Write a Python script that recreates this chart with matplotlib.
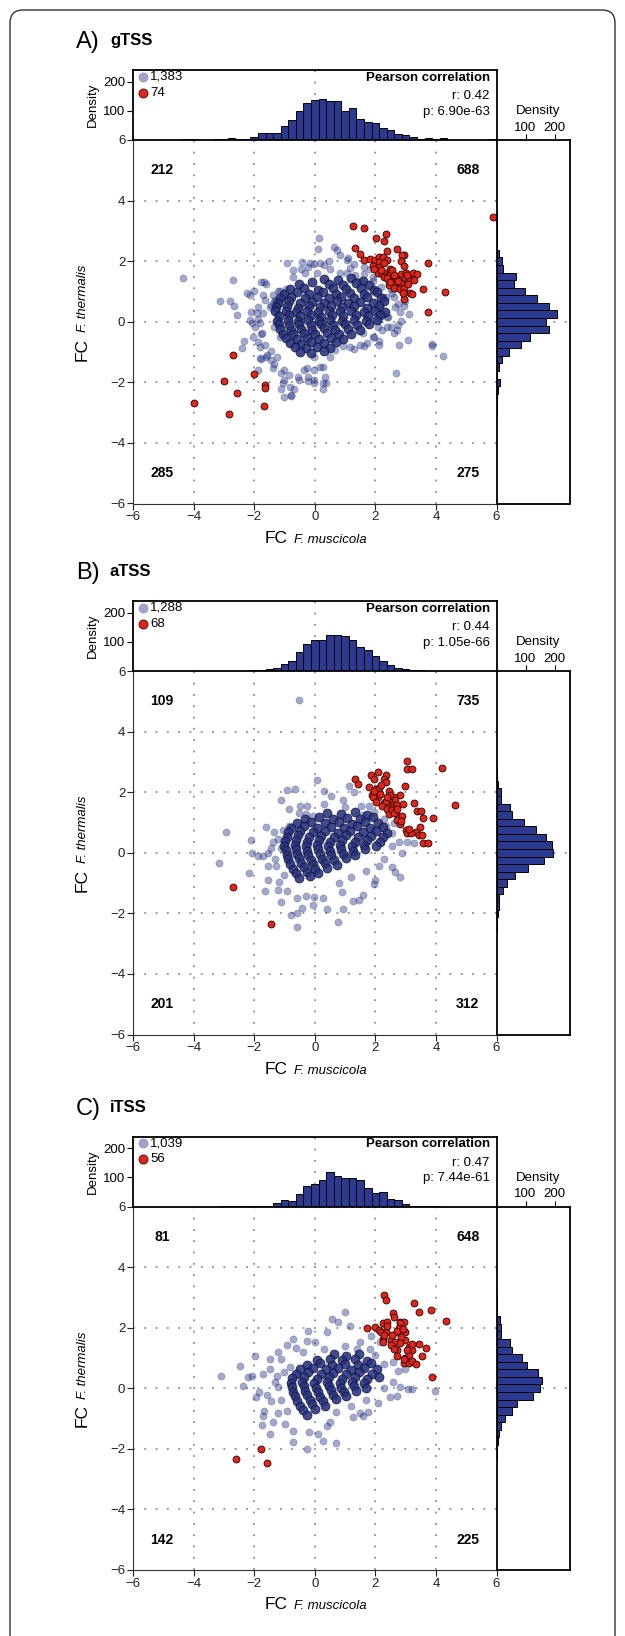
import matplotlib.pyplot as plt
from matplotlib.patches import FancyBboxPatch
from matplotlib.transforms import blended_transform_factory

plt.rcParams['font.family'] = ['Liberation Sans', 'DejaVu Sans']

W, H = 625, 1636

# ---------------- panel A: gTSS ----------------
a_top_centres = [-4.25, -4.0, -3.25, -3.0, -2.75, -2.5, -2.25, -2.0, -1.75, -1.5, -1.25, -1.0,
                 -0.75, -0.5, -0.25, 0.0, 0.25, 0.5, 0.75, 1.0, 1.25, 1.5, 1.75, 2.0, 2.25, 2.5,
                 2.75, 3.0, 3.25, 3.5, 3.75, 4.0, 4.25, 5.875]
a_top_density = [2, 2, 2, 2, 8, 3, 3, 11, 23, 23, 23, 49, 69, 99, 129, 137, 140, 134, 134, 99,
                 109, 72, 61, 57, 40, 34, 21, 17, 10, 5, 7, 2, 6, 2]
a_right_centres = [3.5, 3.25, 3.0, 2.75, 2.5, 2.25, 2.0, 1.75, 1.5, 1.25, 1.0, 0.75, 0.5, 0.25, 0.0,
                   -0.25, -0.5, -0.75, -1.0, -1.25, -1.5, -1.75, -2.0, -2.25, -2.5, -2.75, -3.0]
a_right_density = [2, 1, 2, 2, 3, 9, 20, 24, 66, 60, 98, 140, 180, 208, 170, 182, 115, 85, 43, 20,
                   9, 3, 12, 5, 2, 2, 1]
a_blue_sparse = [
    (-4.36, 1.46), (-2.69, 1.38), (-3.13, 0.70), (-2.79, 0.70), (-2.67, 0.52), (-2.57, 0.21),
    (-2.32, -0.62), (-2.41, -0.87), (-2.15, 0.88), (-2.01, 1.03), (-1.77, 1.31), (-1.60, 1.25),
    (-1.71, 0.87), (-2.12, 0.32), (-2.07, -0.03), (-1.88, 0.10), (-1.77, -0.40), (-1.88, -0.67),
    (-1.77, -1.22), (-1.88, -1.58), (-1.60, -1.16), (-1.44, -0.95), (-1.33, -1.38), (-1.02, -1.60),
    (-1.03, -1.93), (-1.02, -2.48), (-0.80, -2.44), (-0.84, -1.77), (-0.51, -1.91), (-0.23, -1.96),
    (-0.03, -1.91), (0.37, -2.02), (0.26, -2.21), (-0.67, -2.21), (-0.34, -1.60), (-0.01, -1.60),
    (0.26, -1.49), (-0.01, -1.16), (0.92, -0.81), (1.31, -0.89), (1.64, -0.81), (1.97, -0.51),
    (2.13, -0.62), (2.13, -0.78), (2.79, -0.78), (3.07, -0.59), (3.86, -0.73), (3.88, -0.81),
    (4.24, -1.14), (2.68, -1.68), (3.12, 0.26), (2.85, 0.04), (2.74, -0.12), (2.63, -0.37),
    (2.96, 0.52), (2.74, 0.59), (2.63, 0.81), (2.52, 1.09), (0.15, 2.77), (0.10, 2.41),
    (0.62, 2.48), (0.74, 2.37), (-0.43, 1.97), (-0.91, 1.93), (-0.45, 1.75), (-0.21, 1.82),
    (-0.01, 1.91), (0.32, 1.86), (1.07, 2.05), (1.29, 1.89), (-1.66, 1.31), (-1.16, 1.03),
    (-0.95, 1.09), (-1.11, 0.76), (-1.33, 0.65), (-1.49, 0.48), (-1.22, 0.26), (-1.33, -0.18),
    (-1.16, -0.51), (1.47, 1.36), (1.64, 1.58), (1.91, 1.36), (2.19, 1.14), (2.35, 0.81),
    (2.24, 0.26), (2.41, 0.15), (2.52, -0.18), (2.08, -0.18),
    (0.85, 2.20), (-0.16, 1.93), (0.17, 1.93), (0.48, 2.01), (1.11, 2.10), (1.18, 1.77),
    (1.05, 1.60), (1.33, 1.55), (1.62, 1.82), (1.82, 1.73), (1.93, 1.49), (-0.71, 1.71),
    (-0.32, 1.62), (0.06, 1.60), (0.50, 1.73), (0.83, 1.62), (-2.23, 0.94), (-1.20, 1.03),
    (-1.04, 0.89), (-1.32, 0.72), (-1.43, 0.55), (-1.64, 0.72), (-1.87, 0.50), (-2.14, 0.06),
    (-1.92, 0.28), (-1.70, 0.30), (-1.97, -0.16), (-1.81, -0.05), (-2.03, -0.49), (-1.75, -0.38),
    (-1.64, -0.77), (-1.81, -0.82), (-1.59, -1.10), (-1.81, -1.21), (-1.43, -1.26), (-1.26, -1.15),
    (-1.37, -1.54), (-1.10, -1.70), (-1.04, -2.03), (-1.10, -2.23), (-0.82, -2.14), (-0.77, -2.42),
    (-0.55, -1.81), (-0.27, -1.54), (-0.21, -1.81), (0.17, -1.48), (0.34, -1.81), (0.28, -2.03),
    (-0.03, -2.03), (0.50, -1.15), (0.67, -0.93), (1.16, -0.82), (1.49, -0.77), (1.71, -0.71),
    (1.93, -0.49), (1.60, -0.38), (2.21, -0.27), (2.37, -0.16), (2.70, -0.27), (2.81, 0.33),
    (2.98, 0.67), (2.65, 0.50), (2.54, 0.94), (2.26, 0.83), (2.15, 0.50), (2.37, 0.17),
    (2.10, 0.06), (-0.71, 1.49), (-1.37, 0.89),
]
a_blue_dense = [
    (0.32, 1.42), (0.78, 1.38), (1.21, 1.45), (1.58, 1.36),
    (-0.52, 1.24), (-0.08, 1.30), (0.47, 1.26), (0.93, 1.22), (1.36, 1.29), (1.79, 1.21),
    (-0.83, 1.08), (-0.37, 1.13), (0.12, 1.06), (0.61, 1.12), (1.04, 1.07), (1.52, 1.11), (1.96, 1.04),
    (-1.02, 0.93), (-0.58, 0.97), (-0.19, 0.92), (0.27, 0.98), (0.71, 0.93), (1.17, 0.96), (1.63, 0.91),
    (2.06, 0.97),
    (-1.16, 0.79), (-0.77, 0.82), (-0.33, 0.78), (0.06, 0.83), (0.47, 0.77), (0.86, 0.81), (1.31, 0.78),
    (1.74, 0.83), (2.19, 0.77),
    (-1.21, 0.63), (-0.86, 0.67), (-0.48, 0.62), (-0.09, 0.66), (0.31, 0.63), (0.72, 0.68), (1.09, 0.62),
    (1.51, 0.66), (1.92, 0.63), (2.28, 0.68),
    (-1.27, 0.49), (-0.92, 0.52), (-0.54, 0.47), (-0.18, 0.51), (0.17, 0.48), (0.52, 0.53), (0.91, 0.49),
    (1.29, 0.52), (1.71, 0.47), (2.11, 0.51),
    (-1.31, 0.34), (-0.96, 0.37), (-0.61, 0.33), (-0.24, 0.36), (0.11, 0.32), (0.46, 0.37), (0.82, 0.34),
    (1.19, 0.36), (1.61, 0.33), (1.98, 0.37), (2.33, 0.32),
    (-1.19, 0.19), (-0.84, 0.22), (-0.49, 0.18), (-0.13, 0.21), (0.21, 0.17), (0.56, 0.22), (0.94, 0.19),
    (1.36, 0.21), (1.76, 0.18), (2.14, 0.22),
    (-1.24, 0.04), (-0.89, 0.07), (-0.56, 0.03), (-0.21, 0.06), (0.14, 0.02), (0.51, 0.07), (0.89, 0.04),
    (1.31, 0.06), (1.69, 0.03), (2.04, 0.07),
    (-1.18, -0.09), (-0.86, -0.12), (-0.51, -0.08), (-0.14, -0.11), (0.22, -0.07), (0.59, -0.12),
    (0.99, -0.09), (1.41, -0.11), (1.79, -0.08),
    (-1.14, -0.24), (-0.79, -0.27), (-0.44, -0.23), (-0.09, -0.26), (0.29, -0.22), (0.68, -0.27),
    (1.11, -0.24), (1.49, -0.26),
    (-1.06, -0.39), (-0.71, -0.42), (-0.34, -0.38), (0.02, -0.41), (0.39, -0.37), (0.81, -0.42), (1.19, -0.39),
    (-0.94, -0.54), (-0.59, -0.57), (-0.26, -0.53), (0.14, -0.56), (0.54, -0.52), (0.93, -0.57),
    (-0.81, -0.69), (-0.46, -0.72), (-0.11, -0.68), (0.29, -0.71), (0.71, -0.67),
    (-0.66, -0.84), (-0.29, -0.87), (0.09, -0.83), (0.49, -0.86),
    (-0.49, -0.99), (-0.12, -1.02), (0.31, -0.98),
]
a_red = [
    (5.90, 3.45), (1.27, 3.16), (1.63, 3.08), (2.34, 2.91), (2.02, 2.76), (2.27, 2.67), (1.34, 2.43),
    (2.70, 2.41), (2.38, 2.32), (1.48, 2.23), (2.96, 2.22), (2.87, 2.20), (1.64, 2.04), (1.81, 2.08),
    (2.00, 2.04), (2.13, 2.13), (2.24, 2.13), (2.13, 1.96), (2.38, 2.05), (3.75, 1.95), (2.85, 2.00),
    (1.91, 1.85), (2.13, 1.82), (2.96, 1.85), (2.49, 1.75), (2.08, 1.60), (2.21, 1.58), (2.35, 1.60),
    (2.47, 1.63), (2.85, 1.58), (3.01, 1.60), (3.25, 1.62), (3.37, 1.58), (2.30, 1.49), (2.49, 1.53),
    (2.98, 1.43), (3.11, 1.41), (3.29, 1.38), (2.44, 1.36), (2.63, 1.25), (2.46, 1.22), (2.85, 1.27),
    (2.63, 1.12), (2.82, 1.09), (2.95, 1.12), (3.56, 1.07), (3.13, 0.96), (3.21, 0.90), (2.96, 0.76),
    (4.29, 0.99), (3.74, 0.32), (2.68, 1.45), (3.07, 1.25), (2.55, 1.70), (2.40, 1.45), (2.20, 1.70),
    (2.60, 1.55), (2.75, 1.35), (2.30, 1.95), (3.05, 1.55), (2.90, 0.95), (2.50, 1.30), (1.95, 1.75),
    (-2.70, -1.11), (-2.00, -1.74), (-2.98, -1.97), (-1.63, -2.10), (-1.63, -2.19), (-2.57, -2.34),
    (-1.67, -2.78), (-3.98, -2.68), (-2.82, -3.03),
]
a_quadrants = [212, 688, 285, 275]
a_counts = ['1,383', '74']
a_stats = ['r: 0.42', 'p: 6.90e-63']

# ---------------- panel B: aTSS ----------------
b_top_centres = [-2.25, -2.0, -1.75, -1.5, -1.25, -1.0, -0.75, -0.5, -0.25, 0.0, 0.25, 0.5, 0.75,
                 1.0, 1.25, 1.5, 1.75, 2.0, 2.25, 2.5, 2.75, 3.0, 3.25, 3.5]
b_top_density = [1, 2, 3, 7, 10, 23, 35, 67, 94, 106, 108, 123, 123, 121, 108, 82, 71, 53, 35, 21,
                 12, 6, 4, 2]
b_right_centres = [2.75, 2.5, 2.25, 2.0, 1.75, 1.5, 1.25, 1.0, 0.75, 0.5, 0.25, 0.0, -0.25, -0.5,
                   -0.75, -1.0, -1.25, -1.5, -1.75, -2.0, -2.25, -2.5]
b_right_density = [2, 3, 4, 14, 17, 48, 53, 95, 135, 169, 190, 195, 164, 108, 65, 36, 22, 8, 10, 6,
                   2, 1]
b_blue_sparse = [
    (-0.53, 5.03), (0.09, 2.41), (-0.92, 2.07), (-0.65, 2.09), (0.31, 2.05), (0.53, 1.88),
    (-1.10, 1.75), (-0.24, 1.53), (-0.84, 1.45), (-0.51, 1.31), (-0.29, 1.27), (-0.07, 1.22),
    (-1.61, 0.86), (-1.33, 0.70), (-1.06, 0.76), (-0.84, 0.87), (-2.93, 0.68), (-2.10, 0.42),
    (-1.39, 0.36), (-1.12, 0.15), (-2.07, -0.01), (-1.86, -0.10), (-1.70, -0.10), (-1.55, -0.01),
    (-3.15, -0.34), (-2.16, -0.68), (-1.55, -0.45), (-1.28, -0.45), (-1.53, -0.89), (-1.19, -0.95),
    (-1.64, -1.26), (-1.21, -1.24), (-0.90, -1.27), (-1.12, -1.64), (-0.60, -1.49), (-0.29, -1.44),
    (-0.02, -1.46), (0.26, -1.48), (-0.42, -1.82), (-0.07, -1.71), (-0.79, -2.04), (-0.60, -1.99),
    (-0.60, -2.44), (0.39, -1.86), (0.94, -1.85), (0.78, -2.27), (1.25, -1.60), (1.47, -1.57),
    (1.58, -1.38), (1.94, -1.04), (2.12, -0.45), (2.56, -0.47), (2.65, -0.62), (2.80, -0.79),
    (2.89, -0.01), (3.06, 0.34), (3.28, 0.32), (2.78, 0.37), (2.56, 0.21), (1.79, 1.53),
    (1.52, 1.53), (1.30, 2.02), (1.14, 2.19), (0.92, 1.75), (2.56, 0.65), (2.34, 0.87),
    (2.62, 0.98), (1.60, 1.25), (1.95, 1.35), (2.30, 1.10), (-1.20, 0.45), (-1.30, -0.20),
    (-1.00, -0.75), (0.80, -1.00), (1.20, -0.80), (1.70, -0.60), (2.30, -0.20), (0.30, 1.60),
    (-0.50, 1.55), (1.00, 1.50), (-1.45, 0.15), (0.90, -1.30), (2.00, -0.90),
]
b_blue_dense = [
    (0.42, 1.31), (0.88, 1.27), (1.33, 1.33), (1.74, 1.26),
    (-0.31, 1.13), (0.14, 1.18), (0.61, 1.12), (1.06, 1.16), (1.49, 1.11), (1.93, 1.17),
    (-0.58, 0.98), (-0.12, 1.03), (0.33, 0.97), (0.79, 1.02), (1.22, 0.96), (1.67, 1.01), (2.09, 0.97),
    (-0.77, 0.83), (-0.36, 0.87), (0.08, 0.82), (0.52, 0.86), (0.97, 0.81), (1.41, 0.87), (1.84, 0.82),
    (2.24, 0.86),
    (-0.88, 0.68), (-0.49, 0.72), (-0.07, 0.67), (0.34, 0.71), (0.76, 0.66), (1.18, 0.72), (1.59, 0.67),
    (2.01, 0.71), (2.37, 0.66),
    (-0.93, 0.53), (-0.56, 0.57), (-0.19, 0.52), (0.21, 0.56), (0.62, 0.51), (1.03, 0.57), (1.44, 0.52),
    (1.86, 0.56), (2.26, 0.52),
    (-0.98, 0.38), (-0.62, 0.42), (-0.26, 0.37), (0.13, 0.41), (0.49, 0.36), (0.91, 0.42), (1.32, 0.37),
    (1.73, 0.41), (2.14, 0.37),
    (-1.01, 0.23), (-0.66, 0.27), (-0.29, 0.22), (0.07, 0.26), (0.43, 0.21), (0.83, 0.27), (1.22, 0.22),
    (1.63, 0.26), (2.02, 0.22),
    (-0.96, 0.08), (-0.61, 0.12), (-0.24, 0.07), (0.12, 0.11), (0.49, 0.06), (0.88, 0.12), (1.27, 0.07),
    (1.66, 0.11),
    (-0.92, -0.07), (-0.57, -0.03), (-0.21, -0.08), (0.16, -0.04), (0.55, -0.09), (0.94, -0.03),
    (1.34, -0.08),
    (-0.87, -0.22), (-0.51, -0.18), (-0.14, -0.23), (0.24, -0.19), (0.63, -0.24), (1.03, -0.18),
    (-0.81, -0.37), (-0.44, -0.33), (-0.06, -0.38), (0.33, -0.34), (0.72, -0.39),
    (-0.72, -0.52), (-0.36, -0.48), (0.02, -0.53), (0.41, -0.49),
    (-0.63, -0.67), (-0.27, -0.63), (0.11, -0.68),
    (-0.52, -0.82), (-0.16, -0.78),
]
b_red = [
    (3.06, 3.03), (3.06, 2.78), (3.22, 2.78), (4.21, 2.81), (1.33, 2.44), (1.43, 2.27), (1.87, 2.56),
    (2.09, 2.65), (2.36, 2.56), (1.94, 2.43), (2.28, 2.44), (2.34, 2.34), (1.79, 2.16), (2.01, 2.12),
    (2.12, 2.15), (2.98, 2.21), (2.45, 2.04), (2.80, 1.92), (1.90, 1.92), (2.10, 1.84), (1.92, 1.84),
    (2.62, 1.85), (2.65, 1.75), (2.01, 1.69), (2.28, 1.64), (2.45, 1.66), (2.56, 1.58), (2.72, 1.58),
    (2.91, 1.62), (3.26, 1.64), (2.40, 1.56), (2.23, 1.53), (4.63, 1.59), (2.40, 1.44), (2.56, 1.47),
    (3.36, 1.38), (3.51, 1.38), (2.45, 1.29), (2.76, 1.22), (2.89, 1.22), (3.59, 1.15), (3.90, 1.15),
    (2.70, 1.09), (2.80, 0.96), (3.46, 0.85), (3.00, 0.76), (3.35, 0.70), (3.06, 0.65), (3.17, 0.65),
    (3.44, 0.59), (3.55, 0.59), (3.57, 0.31), (3.74, 0.33), (2.56, 1.40), (2.35, 1.70), (2.50, 1.90),
    (2.15, 1.95), (2.62, 1.30), (2.85, 1.05), (2.20, 2.25), (1.95, 2.05), (2.70, 1.45), (3.10, 0.80),
    (2.40, 1.85), (-2.71, -1.12), (-1.43, -2.36),
]
b_quadrants = [109, 735, 201, 312]
b_counts = ['1,288', '68']
b_stats = ['r: 0.44', 'p: 1.05e-66']

# ---------------- panel C: iTSS ----------------
c_top_centres = [-3.0, -2.75, -2.5, -2.25, -2.0, -1.75, -1.5, -1.25, -1.0, -0.75, -0.5, -0.25, 0.0,
                 0.25, 0.5, 0.75, 1.0, 1.25, 1.5, 1.75, 2.0, 2.25, 2.5, 2.75, 3.0, 3.25, 3.5, 3.75, 4.0]
c_top_density = [1, 1, 1, 2, 2, 3, 3, 13, 21, 19, 42, 70, 77, 91, 120, 106, 97, 99, 91, 65, 47, 49,
                 27, 21, 9, 3, 2, 1, 1]
c_right_centres = [3.0, 2.75, 2.5, 2.25, 2.0, 1.75, 1.5, 1.25, 1.0, 0.75, 0.5, 0.25, 0.0, -0.25,
                   -0.5, -0.75, -1.0, -1.25, -1.5, -1.75, -2.0, -2.25]
c_right_density = [2, 2, 3, 11, 14, 15, 48, 52, 89, 105, 144, 156, 149, 125, 72, 55, 28, 15, 7, 6,
                   2, 1]
c_blue_sparse = [
    (0.99, 2.53), (0.57, 2.29), (0.77, 2.18), (1.16, 2.04), (-0.22, 1.88), (0.39, 1.85),
    (-0.27, 1.57), (0.00, 1.52), (-0.71, 1.63), (-0.91, 1.43), (-0.63, 1.33), (-1.21, 1.19),
    (-1.48, 0.97), (-1.10, 0.95), (-1.98, 1.05), (-2.48, 0.74), (-3.10, 0.41), (-2.20, 0.36),
    (-2.06, 0.41), (-2.37, 0.07), (-1.48, 0.64), (-1.70, 0.47), (-1.26, 0.42), (-0.82, 0.69),
    (-1.84, -0.13), (-1.95, -0.30), (-1.57, -0.22), (-1.43, -0.41), (-1.21, 0.03), (-1.68, -0.76),
    (-1.70, -0.93), (-1.74, -1.20), (-1.48, -1.51), (-1.21, -0.82), (-1.37, -1.12), (-0.99, -1.18),
    (-0.71, -1.40), (-0.73, -1.78), (-0.19, -1.43), (0.11, -1.51), (0.26, -1.73), (-0.25, -2.02),
    (0.70, -1.81), (0.39, -1.23), (1.27, -0.96), (1.49, -0.82), (1.76, -0.79), (2.09, -0.49),
    (2.48, -0.30), (2.70, -0.24), (2.81, 0.03), (3.09, -0.04), (3.20, -0.04), (3.97, -0.08),
    (2.59, 0.20), (2.98, 0.64), (2.76, 0.58), (2.59, 0.86), (1.87, 1.71), (1.49, 1.52),
    (1.82, 1.30), (2.15, 1.52), (1.40, 1.30), (2.00, 1.10), (2.30, 0.80), (-1.00, 0.55),
    (-1.10, -0.40), (-0.90, -0.75), (0.70, -0.80), (1.20, -0.60), (1.70, -0.40), (2.30, 0.00),
    (0.30, 1.30), (-0.40, 1.20), (1.00, 1.40), (-1.30, 0.20), (0.50, -1.10), (1.60, -0.90),
]
c_blue_dense = [
    (0.62, 1.12), (1.04, 1.08), (1.47, 1.13),
    (0.08, 0.93), (0.49, 0.97), (0.91, 0.92), (1.33, 0.96), (1.74, 0.91),
    (-0.27, 0.78), (0.17, 0.82), (0.58, 0.77), (1.01, 0.81), (1.42, 0.76), (1.86, 0.82),
    (-0.49, 0.63), (-0.07, 0.67), (0.36, 0.62), (0.78, 0.66), (1.21, 0.61), (1.63, 0.67), (2.04, 0.62),
    (-0.63, 0.48), (-0.22, 0.52), (0.19, 0.47), (0.61, 0.51), (1.04, 0.46), (1.46, 0.52), (1.88, 0.47),
    (-0.74, 0.33), (-0.34, 0.37), (0.07, 0.32), (0.48, 0.36), (0.91, 0.31), (1.33, 0.37), (1.74, 0.32),
    (2.11, 0.36),
    (-0.79, 0.18), (-0.41, 0.22), (-0.01, 0.17), (0.41, 0.21), (0.83, 0.16), (1.24, 0.22), (1.64, 0.17),
    (-0.76, 0.03), (-0.37, 0.07), (0.04, 0.02), (0.46, 0.06), (0.87, 0.01), (1.29, 0.07), (1.68, 0.02),
    (-0.71, -0.12), (-0.31, -0.08), (0.11, -0.13), (0.53, -0.07), (0.96, -0.12), (1.37, -0.08),
    (-0.66, -0.27), (-0.24, -0.23), (0.18, -0.28), (0.61, -0.22), (1.04, -0.27),
    (-0.58, -0.42), (-0.17, -0.38), (0.26, -0.43), (0.69, -0.37),
    (-0.49, -0.57), (-0.08, -0.53), (0.34, -0.58),
    (-0.38, -0.72), (0.02, -0.68),
    (-0.24, -0.87),
]
c_red = [
    (2.29, 3.08), (2.35, 2.91), (3.27, 2.82), (3.83, 2.58), (3.45, 2.53), (4.33, 2.23), (2.59, 2.49),
    (2.60, 2.35), (1.74, 1.98), (2.00, 2.03), (2.25, 2.15), (2.39, 2.19), (2.11, 1.93), (2.20, 1.85),
    (2.35, 1.87), (2.81, 2.19), (2.95, 2.19), (2.83, 2.14), (2.77, 1.98), (2.70, 1.87), (2.98, 1.85),
    (2.26, 1.63), (2.26, 1.52), (2.98, 1.59), (2.51, 1.59), (2.65, 1.52), (3.45, 1.46), (2.51, 1.43),
    (3.12, 1.36), (3.68, 1.33), (2.70, 1.26), (3.22, 1.25), (2.72, 1.08), (2.99, 1.00), (3.12, 1.10),
    (3.55, 1.07), (2.96, 0.82), (3.11, 0.82), (3.22, 0.90), (3.35, 0.80), (3.86, 0.38), (2.72, 1.88),
    (2.55, 1.75), (2.85, 1.70), (2.40, 2.05), (3.05, 1.25), (2.30, 1.75), (2.90, 1.95), (3.20, 1.45),
    (2.60, 1.30), (2.95, 0.95), (2.80, 1.50),
    (-2.59, -2.35), (-1.79, -1.99), (-1.59, -2.47),
]
c_quadrants = [81, 648, 142, 225]
c_counts = ['1,039', '56']
c_stats = ['r: 0.47', 'p: 7.44e-61']

# ---------------- layout (pixels of the 625 x 1636 image) ----------------
SC_L, SC_W, SC_H = 133, 363.5, 363.5
TH_H, RH_W = 70, 73.5
BAR = '#2b3990'
BLUE = '#21338b'
RED = '#e0261b'
GRID = dict(color='#7a7a7a', linestyle=(0, (1.2, 6.2)), linewidth=1.1, zorder=0)
FS = 9.5

fig = plt.figure(figsize=(W / 100, H / 100), dpi=100)


def px_rect(x0, y0, w, h):
    return [x0 / W, 1 - (y0 + h) / H, w / W, h / H]


def draw_panel(top, letter, name, top_c, top_d, right_c, right_d, sparse, dense, red,
               quads, counts, stats):
    ax = fig.add_axes(px_rect(SC_L, top, SC_W, SC_H))
    axt = fig.add_axes(px_rect(SC_L, top - TH_H, SC_W, TH_H))
    axr = fig.add_axes(px_rect(SC_L + SC_W, top, RH_W, SC_H))

    # scatter: grey-blue points, the dense core drawn heavier where they pile up, red on top
    for v in (-4, -2, 0, 2, 4):
        ax.axvline(v, **GRID)
        ax.axhline(v, **GRID)
    sx, sy = zip(*sparse)
    ax.scatter(sx, sy, s=27, color=BLUE, alpha=0.42, edgecolors='#10103a', linewidths=0.3, zorder=2)
    dx, dy = zip(*dense)
    ax.scatter(dx, dy, s=42, color='#26327e', alpha=0.88, edgecolors='#0c0c30', linewidths=0.5,
               zorder=3)
    rx, ry = zip(*red)
    ax.scatter(rx, ry, s=25, color=RED, edgecolors='#2a0505', linewidths=0.6, zorder=4)
    ax.set_xlim(-6, 6)
    ax.set_ylim(-6, 6)
    ax.set_xticks(range(-6, 7, 2))
    ax.set_yticks(range(-6, 7, 2))
    ax.tick_params(labelsize=FS, length=4, width=0.8, pad=1.5, colors='#222222')
    for s in ('top', 'right'):
        ax.spines[s].set_visible(False)
    for s in ('left', 'bottom'):
        ax.spines[s].set_linewidth(0.8)
        ax.spines[s].set_color('#333333')

    for (qx, qy), n in zip([(-5.05, 5.0), (5.05, 5.0), (-5.05, -5.0), (5.05, -5.0)], quads):
        ax.text(qx, qy, str(n), ha='center', va='center', fontsize=10, fontweight='bold')

    bx = blended_transform_factory(ax.transData, ax.transAxes)
    ax.text(-0.88, -0.108, 'FC', transform=bx, ha='right', va='baseline', fontsize=12.5)
    ax.text(-0.70, -0.108, 'F. muscicola', transform=bx, ha='left', va='baseline',
            fontsize=9.5, style='italic')
    by = blended_transform_factory(ax.transAxes, ax.transData)
    ax.text(-0.128, -0.52, 'FC', transform=by, ha='right', va='baseline', fontsize=12.5,
            rotation=90, rotation_mode='anchor')
    ax.text(-0.128, -0.34, 'F. thermalis', transform=by, ha='left', va='baseline', fontsize=9.5,
            style='italic', rotation=90, rotation_mode='anchor')

    # top histogram
    axt.axvline(0, **GRID)
    axt.bar(top_c, top_d, width=0.25, color=BAR, edgecolor='black', linewidth=0.7, zorder=2)
    axt.set_xlim(-6, 6)
    axt.set_ylim(0, 241)
    axt.set_xticks([])
    axt.set_yticks([100, 200])
    axt.tick_params(labelsize=FS, length=4, width=0.8, pad=1.5)
    for s in axt.spines.values():
        s.set_linewidth(1.3)
    axt.set_ylabel('Density', fontsize=FS, labelpad=3)
    axt.plot([-5.68], [217], 'o', ms=6.5, color='#9ea4cc', mec='#8a90bb', mew=0.5, clip_on=False)
    axt.plot([-5.68], [162], 'o', ms=6.5, color=RED, mec='#3a0a0a', mew=0.6, clip_on=False)
    axt.text(-5.44, 217, counts[0], ha='left', va='center', fontsize=FS)
    axt.text(-5.44, 162, counts[1], ha='left', va='center', fontsize=FS)
    axt.text(5.78, 215, 'Pearson correlation', ha='right', va='center', fontsize=FS,
             fontweight='bold')
    axt.text(5.78, 150, stats[0], ha='right', va='center', fontsize=FS)
    axt.text(5.78, 98, stats[1], ha='right', va='center', fontsize=FS)

    # right histogram
    axr.axhline(0, **GRID)
    axr.barh(right_c, right_d, height=0.25, color=BAR, edgecolor='black', linewidth=0.7, zorder=2)
    axr.set_ylim(-6, 6)
    axr.set_xlim(0, 253)
    axr.set_yticks([])
    axr.xaxis.tick_top()
    axr.set_xticks([100, 200])
    axr.tick_params(labelsize=FS, length=4, width=0.8, pad=0.5)
    for s in axr.spines.values():
        s.set_linewidth(1.3)
    axr.text(0.57, 1 + 29 / SC_H, 'Density', transform=axr.transAxes, ha='center', va='center',
             fontsize=FS)

    # panel title
    fig.text(76 / W, 1 - (top - 98) / H, letter, ha='left', va='center', fontsize=17)
    fig.text(110 / W, 1 - (top - 99) / H, name, ha='left', va='center', fontsize=12,
             fontweight='bold')


draw_panel(140, 'A)', 'gTSS', a_top_centres, a_top_density, a_right_centres, a_right_density,
           a_blue_sparse, a_blue_dense, a_red, a_quadrants, a_counts, a_stats)
draw_panel(671, 'B)', 'aTSS', b_top_centres, b_top_density, b_right_centres, b_right_density,
           b_blue_sparse, b_blue_dense, b_red, b_quadrants, b_counts, b_stats)
draw_panel(1206.5, 'C)', 'iTSS', c_top_centres, c_top_density, c_right_centres, c_right_density,
           c_blue_sparse, c_blue_dense, c_red, c_quadrants, c_counts, c_stats)

# rounded frame around the whole figure (open at the bottom, as in the crop)
frame = FancyBboxPatch((0.10, -0.5), 6.05, 16.76,
                       boxstyle='round,pad=0,rounding_size=0.13',
                       transform=fig.dpi_scale_trans, fill=False, edgecolor='#333333',
                       linewidth=1.0)
fig.add_artist(frame)

fig.savefig('out.png', dpi=100)
